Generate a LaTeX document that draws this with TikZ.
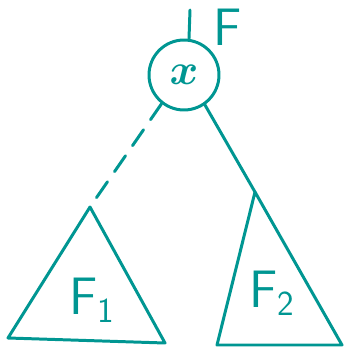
\documentclass[tikz,border=0pt]{standalone}
\definecolor{treeteal}{RGB}{0,150,146}
\usepackage{tikz}
\usetikzlibrary{positioning,calc}
\tikzset{
  root/.style={circle,draw=treeteal,line width=1.7pt,minimum size=1.4cm,
               inner sep=0pt,text=treeteal,font=\fontsize{36}{36}\selectfont\boldmath},
  lab/.style={text=treeteal,font=\sffamily\fontsize{30}{30}\selectfont},
  edge/.style={treeteal,line width=1.7pt,line cap=round,line join=round},
}
\newcommand{\lowsub}[1]{\raisebox{-0.35ex}{\fontsize{20}{20}\selectfont#1}}
\begin{document}
\begin{tikzpicture}[x=0.02cm,y=-0.02cm]
    \useasboundingbox (0,0) rectangle (344,351);
    % root node and its label
    \node[root] (x) at (184,75) {$x$};
    \coordinate (up) at (190,10);
    \draw[edge] (x.north) ++(5,0) coordinate (xtop) -- (up);
    \node[lab] (F) at (228,27) {F};
    % left subtree
    \coordinate (l1) at (90,207);
    \coordinate (l2) at (8,338);
    \coordinate (l3) at (165,343);
    \draw[edge] (l1) -- (l2) -- (l3) -- cycle;
    \node[lab] (F1) at (92,300) {F\lowsub{1}};
    % right subtree
    \coordinate (r1) at (255,192);
    \coordinate (r2) at (217,345);
    \coordinate (r3) at (342,345);
    \draw[edge] (r1) -- (r2) -- (r3) -- cycle;
    \node[lab] (F2) at (272,293) {F\lowsub{2}};
    % edges to subtrees
    \draw[edge,dash pattern=on 11pt off 7pt] (x.232) -- (l1);
    \draw[edge] (x.305) -- (r1);
\end{tikzpicture}
\end{document}
